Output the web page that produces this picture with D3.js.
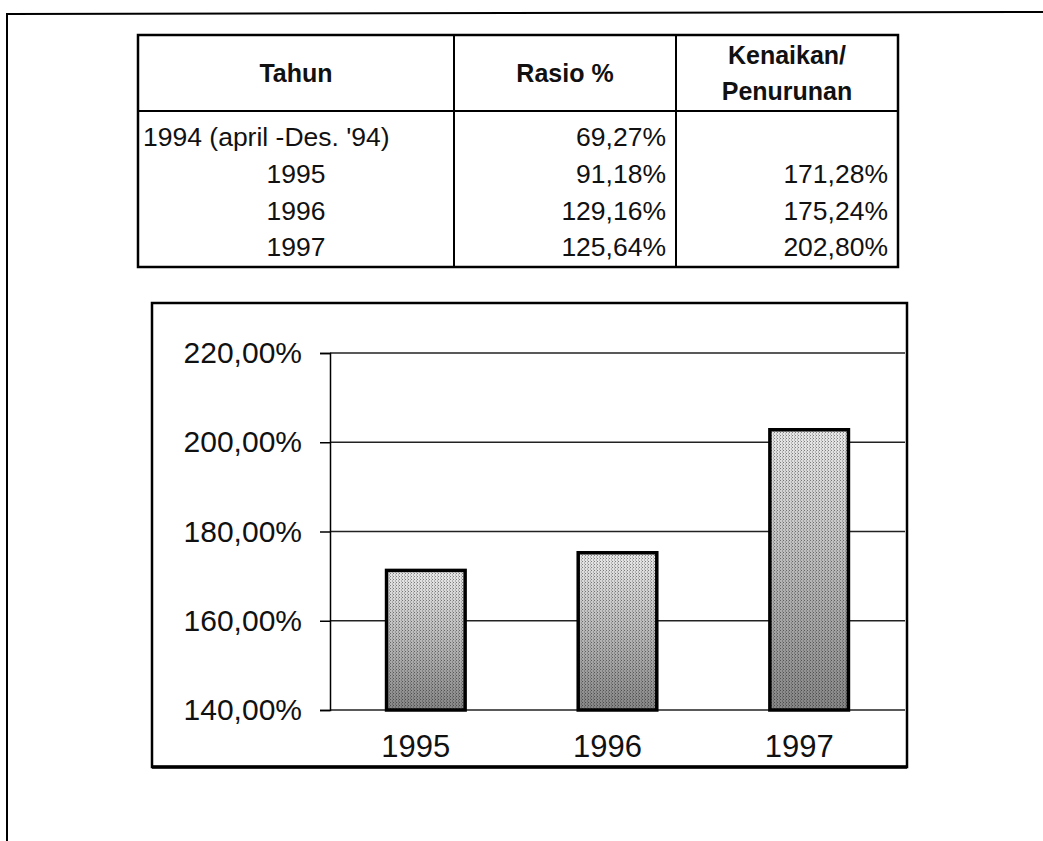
<!DOCTYPE html>
<html>
<head>
<meta charset="utf-8">
<script src="https://cdn.jsdelivr.net/npm/d3@7"></script>
<style>
  body { margin: 0; background: #fff; }
  svg text { font-family: "Liberation Sans", Arial, sans-serif; fill: #111; }
</style>
</head>
<body>
<script>
const tahun = ["1994 (april -Des. '94)", "1995", "1996", "1997"];
const rasio = [69.27, 91.18, 129.16, 125.64];
const kenaikan = [null, 171.28, 175.24, 202.80];
const headers = ["Tahun", "Rasio %", ["Kenaikan/", "Penurunan"]];
const yTicks = [140, 160, 180, 200, 220];

const width = 1043, height = 841;

const idLocale = d3.formatLocale({ decimal: ",", thousands: ".", grouping: [3], currency: ["Rp", ""] });
const pct = (v) => idLocale.format(".2f")(v) + "%";

const svg = d3.select("body").append("svg")
	.attr("width", width)
	.attr("height", height);

const defs = svg.append("defs");
const grad = defs.append("linearGradient")
	.attr("id", "barFill")
	.attr("x1", 0).attr("y1", 0).attr("x2", 0).attr("y2", 1);
grad.append("stop").attr("offset", "0%").attr("stop-color", "#e8e8e8");
grad.append("stop").attr("offset", "45%").attr("stop-color", "#bdbdbd");
grad.append("stop").attr("offset", "100%").attr("stop-color", "#858585");

// halftone-ish dots over the gradient
const dots = defs.append("pattern")
	.attr("id", "dots")
	.attr("width", 3).attr("height", 3)
	.attr("patternUnits", "userSpaceOnUse");
dots.append("rect").attr("width", 1).attr("height", 1).attr("fill", "#000").attr("opacity", 0.45);
dots.append("rect").attr("x", 2).attr("y", 1).attr("width", 1).attr("height", 2).attr("fill", "#000").attr("opacity", 0.2);

// outer frame (page border of the scan)
svg.append("path")
	.attr("d", "M1043,12 L7,14 L7,841")
	.attr("fill", "none")
	.attr("stroke", "#000")
	.attr("stroke-width", 2);

// ---------- table ----------
const table = { left: 138, right: 898, top: 35, headBottom: 111, bottom: 267, cols: [138, 454, 676, 898] };
const rowY = d3.scalePoint().domain(d3.range(tahun.length)).range([137, 247]);

const tg = svg.append("g").attr("class", "table");
tg.append("rect")
	.attr("x", table.left).attr("y", table.top)
	.attr("width", table.right - table.left)
	.attr("height", table.bottom - table.top)
	.attr("fill", "none").attr("stroke", "#000").attr("stroke-width", 2.5);
tg.append("line")
	.attr("x1", table.left).attr("x2", table.right)
	.attr("y1", table.headBottom).attr("y2", table.headBottom)
	.attr("stroke", "#000").attr("stroke-width", 2);
tg.selectAll("line.col")
	.data(table.cols.slice(1, 3))
	.enter().append("line")
	.attr("class", "col")
	.attr("x1", (d) => d).attr("x2", (d) => d)
	.attr("y1", table.top).attr("y2", table.bottom)
	.attr("stroke", "#000").attr("stroke-width", 2);

// header
const headMid = (table.top + table.headBottom) / 2;
headers.forEach((h, i) => {
	const cx = (table.cols[i] + table.cols[i + 1]) / 2;
	const lines = Array.isArray(h) ? h : [h];
	lines.forEach((t, j) => {
		tg.append("text")
			.attr("x", cx)
			.attr("y", headMid + (j - (lines.length - 1) / 2) * 36)
			.attr("dy", "0.35em")
			.attr("text-anchor", "middle")
			.attr("font-size", 25)
			.attr("font-weight", "bold")
			.text(t);
	});
});

// rows
tahun.forEach((t, i) => {
	const first = i === 0;
	tg.append("text")
		.attr("x", first ? table.cols[0] + 5 : (table.cols[0] + table.cols[1]) / 2)
		.attr("y", rowY(i))
		.attr("dy", "0.35em")
		.attr("text-anchor", first ? "start" : "middle")
		.attr("font-size", 26.5)
		.text(t);
	tg.append("text")
		.attr("x", table.cols[2] - 10)
		.attr("y", rowY(i))
		.attr("dy", "0.35em")
		.attr("text-anchor", "end")
		.attr("font-size", 26.5)
		.text(pct(rasio[i]));
	if (kenaikan[i] != null) {
		tg.append("text")
			.attr("x", table.cols[3] - 10)
			.attr("y", rowY(i))
			.attr("dy", "0.35em")
			.attr("text-anchor", "end")
			.attr("font-size", 26.5)
			.text(pct(kenaikan[i]));
	}
});

// ---------- bar chart ----------
const box = { left: 152, top: 303, right: 907, bottom: 767 };
svg.append("rect")
	.attr("x", box.left).attr("y", box.top)
	.attr("width", box.right - box.left)
	.attr("height", box.bottom - box.top)
	.attr("fill", "none").attr("stroke", "#000").attr("stroke-width", 2.5);
svg.append("line")
	.attr("x1", box.left).attr("x2", box.right)
	.attr("y1", box.bottom).attr("y2", box.bottom)
	.attr("stroke", "#000").attr("stroke-width", 3.5);

const chartYears = tahun.slice(1);
const chartVals = kenaikan.slice(1);

const x = d3.scaleBand()
	.domain(chartYears)
	.range([330, 905])
	.paddingInner(0.59)
	.paddingOuter(0.295);

const y = d3.scaleLinear()
	.domain([140, 220])
	.range([710, 353]);

// gridlines
svg.append("g")
	.selectAll("line")
	.data(yTicks)
	.enter().append("line")
	.attr("x1", 330).attr("x2", 905)
	.attr("y1", (d) => y(d)).attr("y2", (d) => y(d))
	.attr("stroke", "#222").attr("stroke-width", 1.3);

// y axis
const yAxis = svg.append("g")
	.attr("transform", "translate(330,0)")
	.call(d3.axisLeft(y).tickValues(yTicks).tickSize(10).tickPadding(18).tickFormat(pct));
yAxis.select(".domain").attr("stroke", "#000").attr("stroke-width", 1.5);
yAxis.selectAll(".tick line").attr("stroke", "#000").attr("stroke-width", 1.5);
yAxis.selectAll(".tick text")
	.attr("font-size", 30)
	.attr("fill", "#111")
	.style("font-family", "'Liberation Sans', Arial, sans-serif");

// bars
const bars = svg.append("g").selectAll("g")
	.data(chartYears.map((k, i) => ({ k, v: chartVals[i] })))
	.enter().append("g");
bars.append("rect")
	.attr("x", (d) => x(d.k))
	.attr("y", (d) => y(d.v))
	.attr("width", x.bandwidth())
	.attr("height", (d) => y(140) - y(d.v))
	.attr("fill", "url(#barFill)");
bars.append("rect")
	.attr("x", (d) => x(d.k))
	.attr("y", (d) => y(d.v))
	.attr("width", x.bandwidth())
	.attr("height", (d) => y(140) - y(d.v))
	.attr("fill", "url(#dots)")
	.attr("stroke", "#000")
	.attr("stroke-width", 3.5);

// x axis labels
const xAxis = svg.append("g")
	.attr("transform", "translate(-10," + y(140) + ")")
	.call(d3.axisBottom(x).tickSize(0).tickPadding(25));
xAxis.select(".domain").remove();
xAxis.selectAll(".tick text")
	.attr("font-size", 31)
	.attr("fill", "#111")
	.style("font-family", "'Liberation Sans', Arial, sans-serif");
</script>
</body>
</html>
